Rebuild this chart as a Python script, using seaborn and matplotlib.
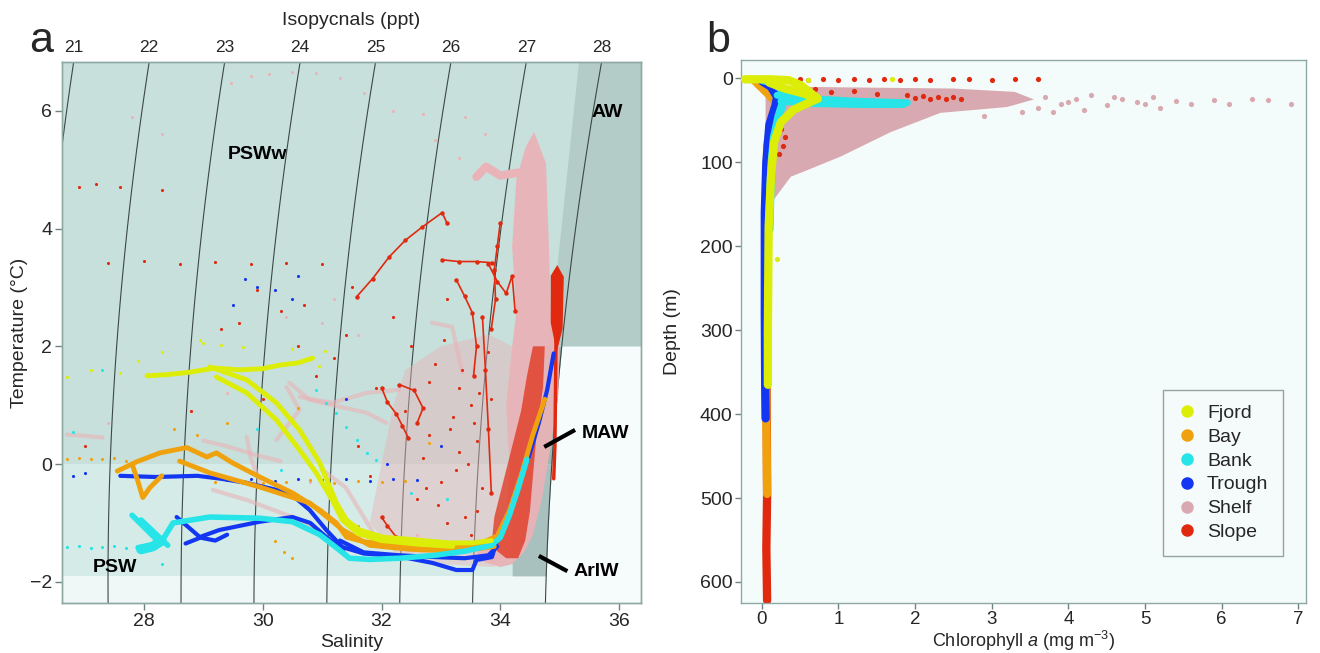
import numpy as np
import pandas as pd
import matplotlib
matplotlib.use("Agg")
import matplotlib.pyplot as plt
from matplotlib.lines import Line2D
import seaborn as sns

sns.set_theme(style="white")
plt.rcParams["font.family"] = ["Liberation Sans", "DejaVu Sans"]
plt.rcParams["mathtext.fontset"] = "custom"
plt.rcParams["mathtext.rm"] = "Liberation Sans"
plt.rcParams["mathtext.it"] = "Liberation Sans:italic"

# ---------------------------------------------------------------- categories
ZONES = ["Fjord", "Bay", "Bank", "Trough", "Shelf", "Slope"]
ZONE_COLORS = ["#dcee08", "#f0a20e", "#26e4e8", "#1236f2", "#e9b3b7", "#e0290f"]
PAL = dict(zip(ZONES, ZONE_COLORS))
SHELF_B = "#d8a9b0"

# ---------------------------------------------------------------- panel a: T-S
FJORD_S1 = [28.05, 28.4, 28.77, 29.19, 29.61, 30.0, 30.28, 30.6, 30.84]
FJORD_T1 = [1.50, 1.52, 1.56, 1.63, 1.60, 1.62, 1.68, 1.72, 1.80]
FJORD_S2 = [29.11, 29.73, 30.23, 30.62, 30.96, 31.24, 31.41, 31.63, 32.02, 32.59, 33.14, 33.53, 33.85]
FJORD_T2 = [1.65, 1.43, 1.04, 0.58, 0.02, -0.66, -0.95, -1.12, -1.24, -1.29, -1.34, -1.34, -1.30]
FJORD_S3 = [29.22, 29.73, 30.23, 30.62, 30.90, 31.17, 31.34, 31.60, 32.00, 32.60, 33.20]
FJORD_T3 = [1.48, 1.21, 0.75, 0.24, -0.15, -0.61, -0.95, -1.18, -1.30, -1.36, -1.40]
FJORD_DOT_S = [26.70, 27.60, 28.94, 29.30, 29.66, 28.30, 27.10, 30.95, 31.05, 29.00, 30.50, 27.90]
FJORD_DOT_T = [1.48, 1.55, 2.10, 2.02, 1.99, 1.90, 1.60, 1.66, 1.92, 2.05, 1.95, 1.75]

BAY_S1 = [27.55, 27.88, 28.27, 28.72, 29.06, 29.22, 29.49, 29.95, 30.50, 30.96, 31.24, 31.41, 31.70,
          32.30, 33.00, 33.60, 33.95, 34.15, 34.35, 34.55, 34.75]
BAY_T1 = [-0.12, 0.04, 0.19, 0.28, 0.12, 0.19, 0.02, -0.22, -0.49, -0.78, -1.00, -1.24, -1.32,
          -1.38, -1.42, -1.38, -1.22, -0.80, -0.20, 0.50, 1.10]
BAY_S2 = [28.60, 29.11, 29.95, 30.79, 31.35, 31.80, 32.50, 33.30, 33.90]
BAY_T2 = [0.05, -0.15, -0.39, -0.66, -1.12, -1.38, -1.45, -1.48, -1.40]
BAY_S3 = [27.80, 27.90, 27.98, 28.10, 28.30]
BAY_T3 = [0.00, -0.30, -0.57, -0.40, -0.20]
BAY_DOT_S = [26.70, 26.90, 27.10, 27.30, 27.50, 27.70, 29.20, 29.60, 30.00, 30.40, 30.80, 31.20, 31.60,
             32.00, 32.40, 30.20, 30.35, 30.50, 31.60, 31.80, 32.10, 28.50, 28.90, 29.40, 30.60, 32.80]
BAY_DOT_T = [0.08, 0.10, 0.08, 0.09, 0.10, 0.06, -0.30, -0.28, -0.33, -0.30, -0.27, -0.32, -0.29,
             -0.31, -0.28, -1.30, -1.50, -1.60, -1.05, -1.30, -1.55, 0.60, 0.50, 0.70, 0.95, 0.35]

BANK_S1 = [27.90, 28.27, 28.49, 29.11, 29.95, 30.50, 30.96, 31.29, 31.46, 31.80, 32.30, 32.90, 33.40,
           33.85, 34.00, 34.15, 34.30, 34.45]
BANK_T1 = [-1.42, -1.36, -1.00, -0.90, -0.92, -0.98, -1.20, -1.46, -1.60, -1.62, -1.60, -1.55, -1.48,
           -1.38, -1.25, -0.88, -0.42, 0.08]
BANK_S2 = [27.80, 28.27]
BANK_T2 = [-0.87, -1.34]
BANK_S3 = [27.95, 28.40]
BANK_T3 = [-0.95, -1.38]
BANK_S4 = [27.95, 28.15, 28.30]
BANK_T4 = [-1.45, -1.40, -1.30]
BANK_DOT_S = [26.70, 26.90, 27.10, 27.30, 27.50, 27.70, 30.90, 31.07, 31.24, 31.41, 31.58, 31.75, 31.91,
              27.30, 29.90, 30.30, 32.50, 33.10, 26.80, 28.30]
BANK_DOT_T = [-1.41, -1.40, -1.42, -1.41, -1.40, -1.42, 1.26, 1.04, 0.87, 0.63, 0.41, 0.19, 0.07,
              1.60, 0.60, -0.10, -0.50, -0.60, 0.55, -1.70]

TROUGH_S1 = [27.60, 28.20, 28.90, 29.30, 29.73, 30.45, 30.79, 31.07, 31.34, 31.70, 32.30, 32.86, 33.26,
             33.53, 33.60, 33.86, 33.93, 34.10, 34.27, 34.48, 34.65, 34.79, 34.90]
TROUGH_T1 = [-0.20, -0.22, -0.20, -0.25, -0.32, -0.49, -0.78, -1.12, -1.41, -1.52, -1.57, -1.68, -1.80,
             -1.80, -1.63, -1.58, -1.34, -0.95, -0.45, 0.12, 0.70, 1.26, 1.88]
TROUGH_S2 = [28.55, 28.94, 29.27, 29.95, 30.50, 30.80, 31.07, 31.35]
TROUGH_T2 = [-0.90, -1.24, -1.12, -0.98, -0.90, -1.00, -1.24, -1.46]
TROUGH_S3 = [31.30, 31.70, 32.30, 32.90, 33.40, 33.80, 33.95]
TROUGH_T3 = [-1.30, -1.50, -1.55, -1.58, -1.60, -1.55, -1.40]
TROUGH_S4 = [28.70, 28.95, 29.20, 29.40]
TROUGH_T4 = [-1.35, -1.25, -1.30, -1.20]
TROUGH_DOT_S = [29.40, 29.80, 30.20, 30.60, 31.00, 31.40, 31.80, 32.20, 32.60, 29.70, 29.90, 30.20,
                30.50, 30.60, 29.50, 31.40, 32.10, 33.00, 27.00, 26.80]
TROUGH_DOT_T = [-0.27, -0.25, -0.28, -0.26, -0.27, -0.25, -0.28, -0.26, -0.27, 3.15, 3.00, 2.95,
                2.80, 3.20, 2.70, 1.10, 0.00, 0.30, -0.15, -0.20]

SHELF_CORE_S = [34.57, 34.77, 34.82, 34.85, 35.00, 34.98, 34.85, 34.70, 34.55, 34.40, 34.20, 34.00,
                33.70, 33.60, 33.90, 34.10, 34.15, 34.10, 34.20, 34.27, 34.20, 34.27, 34.43]
SHELF_CORE_T = [5.64, 5.11, 3.69, 2.57, 2.20, 1.20, 0.30, -0.60, -1.20, -1.50, -1.70, -1.75,
                -1.65, -1.50, -1.30, -0.90, 0.00, 1.00, 2.00, 2.57, 3.69, 4.83, 5.39]
SHELF_HAZE_S = [32.40, 33.00, 33.80, 34.20, 34.10, 33.90, 33.00, 32.30, 31.80, 32.00, 32.20]
SHELF_HAZE_T = [1.60, 2.00, 2.20, 2.00, -1.00, -1.75, -1.70, -1.60, -1.00, 0.00, 1.00]
SHELF_ARM_S = [34.30, 34.00, 33.76, 33.60]
SHELF_ARM_T = [4.95, 4.90, 5.05, 4.88]
SHELF_STREAKS = [
    ([26.70, 27.00, 27.30], [0.50, 0.48, 0.45]),
    ([29.73, 29.80, 29.95], [0.46, 0.10, -0.30]),
    ([30.40, 30.62, 30.23], [1.31, 0.92, 0.41]),
    ([29.16, 29.73, 30.50, 31.07, 31.40], [-0.44, -0.61, -0.90, -1.24, -1.50]),
    ([30.62, 31.17, 31.75, 32.30], [1.14, 1.04, 1.21, 1.26]),
    ([30.45, 30.79, 31.75, 32.08], [1.38, 1.09, 0.87, 0.70]),
    ([32.85, 33.19, 33.36], [2.40, 2.33, 1.55]),
    ([29.00, 29.40, 29.90, 30.30], [0.40, 0.30, 0.15, 0.05]),
    ([31.00, 31.40, 31.70, 32.00], [-0.10, -0.40, -0.90, -1.40]),
]
SHELF_DOT_S = [29.46, 29.80, 30.10, 30.50, 30.90, 31.30, 31.70, 32.20, 32.70, 33.40, 33.75, 32.90,
               33.30, 27.80, 28.30, 30.40, 31.00, 31.60, 28.80, 27.40, 30.80, 32.60, 31.20, 29.40]
SHELF_DOT_T = [6.47, 6.60, 6.62, 6.66, 6.64, 6.55, 6.30, 6.00, 5.95, 5.90, 5.60, 5.50,
               5.20, 5.90, 5.60, 2.50, 2.40, 2.20, 0.90, 0.70, -0.30, -1.20, 2.80, 1.20]

SLOPE_BAND_S = [33.85, 33.90, 34.05, 34.20, 34.35, 34.45, 34.55, 34.75, 34.72, 34.62, 34.55, 34.50,
                34.42, 34.30, 34.10]
SLOPE_BAND_T = [-1.40, -0.90, -0.30, 0.30, 0.90, 1.50, 2.00, 2.00, 1.30, 0.60, -0.20, -0.80,
                -1.30, -1.60, -1.60]
SLOPE_AW_S = [34.85, 34.96, 35.07, 35.05, 34.95, 34.85]
SLOPE_AW_T = [3.20, 3.38, 3.18, 2.30, 1.90, 2.40]
SLOPE_COL_S = [34.95, 34.95, 34.94, 34.93, 34.92, 34.90]
SLOPE_COL_T = [3.30, 2.80, 2.20, 1.20, 0.30, -0.25]
SLOPE_STREAKS = [
    ([31.58, 31.85, 32.13, 32.40, 32.69, 33.02, 33.10], [2.84, 3.15, 3.52, 3.80, 4.03, 4.27, 4.10]),
    ([33.02, 33.30, 33.60, 33.86], [3.47, 3.44, 3.44, 3.42]),
    ([34.00, 33.95, 33.90, 33.92, 33.85], [4.10, 3.70, 3.30, 2.80, 2.30]),
    ([33.26, 33.40, 33.53, 33.60, 33.55], [3.13, 2.85, 2.57, 2.00, 1.50]),
    ([32.00, 32.10, 32.25, 32.35, 32.45], [1.30, 1.05, 0.85, 0.65, 0.45]),
    ([32.30, 32.55, 32.70, 32.60], [1.35, 1.25, 0.95, 0.70]),
    ([32.00, 32.10, 32.25], [-0.90, -1.05, -1.24]),
    ([33.70, 33.75, 33.80, 33.85], [2.50, 1.60, 0.60, -0.50]),
    ([33.80, 33.95, 34.10, 34.20, 34.25], [3.40, 3.10, 2.90, 3.20, 2.60]),
]
SLOPE_DOT_S = [26.90, 27.20, 27.60, 28.30, 27.40, 28.00, 28.60, 29.20, 29.80, 30.40, 31.00, 29.90,
               30.30, 30.60, 31.20, 31.90, 32.40, 32.80, 33.30, 33.00, 32.60, 31.60, 29.30, 30.90,
               31.40, 32.20, 33.50, 33.70, 32.90, 27.00, 28.80, 30.00, 31.80, 33.10, 32.70, 33.20,
               33.40, 32.90, 33.60, 33.30, 32.50, 33.80, 33.10, 32.80, 33.50, 31.50, 30.70, 29.60,
               33.15, 33.45, 33.65, 32.95, 33.25, 33.55, 33.05, 33.35, 32.75, 33.85, 33.60, 33.20]
SLOPE_DOT_T = [4.70, 4.75, 4.70, 4.65, 3.42, 3.45, 3.40, 3.43, 3.40, 3.42, 3.40, 2.95,
               2.60, 2.00, 1.80, 1.30, 0.90, 0.50, 0.20, -0.30, -0.60, 0.30, 2.30, 1.50,
               2.20, 2.50, 1.00, -0.40, 1.70, 0.30, 0.90, 1.10, -0.20, -1.00, 0.10, 0.80,
               -0.90, -1.30, 0.40, 1.30, 2.00, 1.90, 2.80, 1.40, -1.20, 3.00, 2.70, 2.40,
               0.60, 0.00, 1.20, -0.70, -0.10, 0.70, 2.10, 1.60, -0.40, 1.10, -0.80, -1.40]

# ---------------------------------------------------------------- panel b: chlorophyll
FJORD_CHL1 = [-0.22, 0.10, 0.35, 0.51, 0.73, 0.42, 0.25, 0.16, 0.12, 0.09, 0.08, 0.08]
FJORD_DEP1 = [1, 1, 2, 8, 24, 37, 52, 76, 117, 177, 300, 365]
FJORD_CHL2 = [0.10, 0.30, 0.55, 0.73]
FJORD_DEP2 = [5, 12, 18, 24]
BANK_CHL1 = [0.20, 0.60, 1.20, 1.90]
BANK_DEP1 = [20, 24, 27, 29]
BANK_CHL2 = [0.25, 0.70, 1.30, 1.85]
BANK_DEP2 = [27, 30, 31, 31]
BANK_CHL3 = [0.02, 0.15, 0.25, 0.30, 0.22, 0.16, 0.13, 0.11, 0.10]
BANK_DEP3 = [2, 5, 12, 22, 45, 70, 100, 140, 180]
TROUGH_CHL = [0.00, 0.12, 0.20, 0.18, 0.10, 0.06, 0.04, 0.04, 0.045, 0.05]
TROUGH_DEP = [3, 10, 22, 32, 55, 100, 160, 280, 365, 405]
BAY_CHL = [-0.10, 0.10, 0.20, 0.15, 0.07, 0.06, 0.06, 0.07]
BAY_DEP = [2, 20, 30, 40, 80, 200, 405, 495]
SLOPE_CHL = [0.06, 0.07, 0.06, 0.07]
SLOPE_DEP = [300, 495, 560, 622]
SHELF_WEDGE_CHL = [0.05, 0.50, 1.50, 2.50, 3.30, 3.55, 3.20, 2.33, 1.68, 1.03, 0.60, 0.38, 0.16,
                   0.08, 0.05]
SHELF_WEDGE_DEP = [8, 10, 11, 12, 16, 25, 34, 41, 64, 93, 109, 117, 144, 120, 60]
SHELF_B_DOT_CHL = [3.70, 3.90, 4.10, 4.30, 4.50, 4.70, 4.90, 5.10, 5.20, 5.40, 5.60, 5.90, 6.10, 6.40,
                   6.60, 6.90, 3.80, 4.20, 3.60, 4.00, 4.60, 5.00, 3.40, 2.90]
SHELF_B_DOT_DEP = [22, 30, 25, 20, 32, 24, 28, 22, 35, 27, 30, 26, 30, 24, 26, 30, 40, 38, 35, 28,
                   22, 31, 40, 45]
SLOPE_B_DOT_CHL = [0.50, 0.60, 0.80, 1.00, 1.20, 1.40, 1.60, 1.80, 2.00, 2.20, 2.50, 2.70, 3.00, 3.30,
                   3.60, 1.90, 2.00, 2.10, 2.20, 2.30, 2.40, 2.50, 2.60, 1.50, 1.20, 0.90, 0.70,
                   0.20, 0.25, 0.30, 0.28, 0.22, 0.15]
SLOPE_B_DOT_DEP = [1, 2, 1, 2, 1, 2, 1, 2, 1, 2, 1, 1, 2, 1, 1, 20, 23, 21, 24, 22, 25, 22, 24, 18,
                   15, 16, 12, 50, 60, 70, 80, 90, 100]
FJORD_B_DOT_CHL = [0.20, 0.30, 0.60, 1.70]
FJORD_B_DOT_DEP = [215, 1, 2, 1]

# ---------------------------------------------------------------- density helper
def sigma0(S, T):
    rw = (999.842594 + 6.793952e-2 * T - 9.095290e-3 * T**2 + 1.001685e-4 * T**3
          - 1.120083e-6 * T**4 + 6.536332e-9 * T**5)
    A = 8.24493e-1 - 4.0899e-3 * T + 7.6438e-5 * T**2 - 8.2467e-7 * T**3 + 5.3875e-9 * T**4
    B = -5.72466e-3 + 1.0227e-4 * T - 1.6546e-6 * T**2
    C = 4.8314e-4
    return rw + A * S + B * S**1.5 + C * S**2 - 1000.0


S_FINE = np.linspace(20, 40, 4001)


def s_on_isopycnal(level, T):
    T = np.atleast_1d(T)
    return np.array([np.interp(level, sigma0(S_FINE, t), S_FINE) for t in T])


def traces_frame(zone, pairs):
    rows = []
    for k, (xs, ys) in enumerate(pairs):
        for x, y in zip(xs, ys):
            rows.append((zone, k, x, y))
    return pd.DataFrame(rows, columns=["zone", "trace", "x", "y"])


def draw_traces(ax, zone, pairs, color, lw, z, **kw):
    df = traces_frame(zone, pairs)
    kw.setdefault("solid_capstyle", "round")
    sns.lineplot(data=df, x="x", y="y", units="trace", estimator=None, sort=False,
                 color=color, lw=lw, legend=False, ax=ax, zorder=z, **kw)


def draw_dots(ax, xs, ys, color, s, z):
    sns.scatterplot(x=xs, y=ys, color=color, s=s, linewidth=0, legend=False, ax=ax, zorder=z)


FRAME = "#8ea8a4"
S_LO, S_HI, T_BOT, T_TOP = 26.62, 36.37, -2.36, 6.83

fig = plt.figure(figsize=(13.2, 6.53), dpi=100)
axA = fig.add_axes([0.047, 0.0766, 0.4386, 0.8285])
axB = fig.add_axes([0.5614, 0.0766, 0.428, 0.8315])

# ---------------------------------------------------------------- panel a background
axA.set_facecolor("#eff8f7")
axA.fill_between([S_LO, S_HI], 0, T_TOP, color="#c7e0dc", lw=0, zorder=0.1)
axA.fill_between([S_LO, S_HI], -1.9, 0, color="#d5ebe7", lw=0, zorder=0.1)
Tw = np.linspace(T_BOT, 2.0, 60)
axA.fill_betweenx(Tw, s_on_isopycnal(28, Tw), S_HI, color="#f6fbfb", lw=0, zorder=0.2)
axA.fill([35.33, S_HI, S_HI, 34.82], [T_TOP, T_TOP, 2.0, 2.0], color="#b3ccc8", lw=0, zorder=0.3)
Tm = np.linspace(0, 2.0, 30)
axA.fill_betweenx(Tm, 34.54, s_on_isopycnal(28, Tm), color="#9db6b2", lw=0, zorder=0.3)
Ta = np.linspace(-1.9, 0, 30)
axA.fill_betweenx(Ta, 34.2, s_on_isopycnal(28, Ta), color="#a9c1be", lw=0, zorder=0.3)

# isopycnals
SS, TT = np.meshgrid(np.linspace(25.5, 37.5, 300), np.linspace(-3, 8, 300))
LEVELS = [21, 22, 23, 24, 25, 26, 27, 28]
axA.contour(SS, TT, sigma0(SS, TT), levels=LEVELS, colors="#3b4846", linewidths=0.8, zorder=1)

# ---------------------------------------------------------------- panel a data
axA.fill(SHELF_HAZE_S, SHELF_HAZE_T, color=PAL["Shelf"], alpha=0.45, lw=0, zorder=2)
axA.fill(SHELF_CORE_S, SHELF_CORE_T, color=PAL["Shelf"], alpha=0.95, lw=0, zorder=2.1)
draw_traces(axA, "Shelf", [(SHELF_ARM_S, SHELF_ARM_T)], PAL["Shelf"], 6, 2.1)
draw_traces(axA, "Shelf", SHELF_STREAKS, PAL["Shelf"], 3.0, 2.0, alpha=0.6)
draw_dots(axA, SHELF_DOT_S, SHELF_DOT_T, PAL["Shelf"], 5, 2.0)

axA.fill(SLOPE_BAND_S, SLOPE_BAND_T, color=PAL["Slope"], alpha=0.7, lw=0, zorder=2.2)
axA.fill(SLOPE_AW_S, SLOPE_AW_T, color=PAL["Slope"], lw=0, zorder=2.2)
draw_traces(axA, "Slope", [(SLOPE_COL_S, SLOPE_COL_T)], PAL["Slope"], 2.5, 2.2)
draw_traces(axA, "Slope", SLOPE_STREAKS, PAL["Slope"], 1.2, 2.2,
            marker="o", markersize=3.2, markeredgewidth=0)
draw_dots(axA, SLOPE_DOT_S, SLOPE_DOT_T, PAL["Slope"], 5, 2.2)

draw_dots(axA, TROUGH_DOT_S, TROUGH_DOT_T, PAL["Trough"], 5, 2.3)
draw_dots(axA, BAY_DOT_S, BAY_DOT_T, PAL["Bay"], 5, 2.3)
draw_dots(axA, BANK_DOT_S, BANK_DOT_T, PAL["Bank"], 5, 2.3)
draw_dots(axA, FJORD_DOT_S, FJORD_DOT_T, PAL["Fjord"], 5, 2.3)

draw_traces(axA, "Trough", [(TROUGH_S1, TROUGH_T1), (TROUGH_S2, TROUGH_T2),
                            (TROUGH_S3, TROUGH_T3), (TROUGH_S4, TROUGH_T4)],
            PAL["Trough"], 3.0, 3.0)
draw_traces(axA, "Bay", [(BAY_S1, BAY_T1), (BAY_S2, BAY_T2), (BAY_S3, BAY_T3)],
            PAL["Bay"], 3.5, 3.1)
draw_traces(axA, "Bank", [(BANK_S1, BANK_T1), (BANK_S2, BANK_T2), (BANK_S3, BANK_T3)],
            PAL["Bank"], 4.0, 3.2)
draw_traces(axA, "Bank", [(BANK_S4, BANK_T4)], PAL["Bank"], 7.0, 3.2)
draw_traces(axA, "Fjord", [(FJORD_S1, FJORD_T1), (FJORD_S2, FJORD_T2), (FJORD_S3, FJORD_T3)],
            PAL["Fjord"], 3.5, 3.3)

# water-mass labels
bold = dict(fontsize=14, fontweight="bold", color="black", zorder=5)
axA.text(29.41, 5.25, "PSWw", ha="left", va="center", **bold)
axA.text(35.53, 5.98, "AW", ha="left", va="center", **bold)
axA.text(35.37, 0.52, "MAW", ha="left", va="center", **bold)
axA.text(35.24, -1.83, "ArIW", ha="left", va="center", **bold)
axA.text(27.14, -1.75, "PSW", ha="left", va="center", **bold)
axA.plot([34.74, 35.26], [0.29, 0.58], color="black", lw=3, zorder=5, solid_capstyle="butt")
axA.plot([34.65, 35.13], [-1.56, -1.82], color="black", lw=3, zorder=5, solid_capstyle="butt")

axA.set_xlim(S_LO, S_HI)
axA.set_ylim(T_BOT, T_TOP)
axA.set_xticks([28, 30, 32, 34, 36])
axA.set_yticks([6, 4, 2, 0, -2])
axA.set_xlabel("Salinity", fontsize=14)
axA.set_ylabel("Temperature (°C)", fontsize=14)
axA.xaxis.set_label_coords(0.5, -0.058)
axA.yaxis.set_label_coords(-0.058, 0.5)

top = axA.twiny()
top.set_xlim(S_LO, S_HI)
top_pos = [float(s_on_isopycnal(l, T_TOP)[0]) for l in LEVELS]
top.set_xticks(top_pos)
top.set_xticklabels([str(l) for l in LEVELS])
top.tick_params(axis="x", length=0, pad=5, labelsize=12.5)
top.set_xlabel("Isopycnals (ppt)", fontsize=14, labelpad=11)

# ---------------------------------------------------------------- panel b
axB.set_facecolor("#f4fbfb")
axB.fill(SHELF_WEDGE_CHL, SHELF_WEDGE_DEP, color=SHELF_B, lw=0, zorder=2)
draw_dots(axB, SHELF_B_DOT_CHL, SHELF_B_DOT_DEP, SHELF_B, 14, 2)
draw_traces(axB, "Slope", [(SLOPE_CHL, SLOPE_DEP)], PAL["Slope"], 6, 2.2)
draw_dots(axB, SLOPE_B_DOT_CHL, SLOPE_B_DOT_DEP, PAL["Slope"], 14, 2.3)
draw_traces(axB, "Bay", [(BAY_CHL, BAY_DEP)], PAL["Bay"], 6, 2.4)
draw_traces(axB, "Trough", [(TROUGH_CHL, TROUGH_DEP)], PAL["Trough"], 6, 2.5)
draw_traces(axB, "Bank", [(BANK_CHL3, BANK_DEP3)], PAL["Bank"], 6, 2.6)
draw_traces(axB, "Bank", [(BANK_CHL1, BANK_DEP1), (BANK_CHL2, BANK_DEP2)], PAL["Bank"], 5, 2.6)
draw_traces(axB, "Fjord", [(FJORD_CHL1, FJORD_DEP1), (FJORD_CHL2, FJORD_DEP2)], PAL["Fjord"], 6, 2.7)
draw_dots(axB, FJORD_B_DOT_CHL, FJORD_B_DOT_DEP, PAL["Fjord"], 14, 2.8)

axB.set_xlim(-0.27, 7.1)
axB.set_ylim(625, -22)
axB.set_xticks(range(0, 8))
axB.set_yticks(range(0, 700, 100))
axB.set_xlabel(r"Chlorophyll $\mathit{a}$ (mg m$^{-3}$)", fontsize=13)
axB.set_ylabel("Depth (m)", fontsize=14)
axB.xaxis.set_label_coords(0.5, -0.047)
axB.yaxis.set_label_coords(-0.106, 0.5)

handles = [Line2D([], [], ls="", marker="o", ms=9, mec="none",
                  mfc=(SHELF_B if z == "Shelf" else PAL[z]), label=z) for z in ZONES]
leg = axB.legend(handles=handles, loc="lower right", bbox_to_anchor=(0.959, 0.087),
                 borderaxespad=0, frameon=True, fancybox=False, fontsize=14,
                 handletextpad=0.5, labelspacing=0.32, borderpad=0.75, handlelength=1.0)
leg.get_frame().set_edgecolor("#7d8f8c")
leg.get_frame().set_facecolor("#f6fcfc")
leg.get_frame().set_linewidth(1.0)

for ax in (axA, axB, top):
    for sp in ax.spines.values():
        sp.set_color(FRAME)
        sp.set_linewidth(1.0)
axA.tick_params(axis="both", which="major", labelsize=14, length=5, width=1,
                color="#6f8380", bottom=True, left=True, pad=2)
axB.tick_params(axis="both", which="major", labelsize=14, length=4, width=1,
                color="#6f8380", bottom=True, left=True, pad=2)
axB.tick_params(axis="x", labelsize=13.5, pad=1.5)

fig.text(0.022, 0.937, "a", fontsize=31, ha="left", va="center")
fig.text(0.535, 0.937, "b", fontsize=31, ha="left", va="center")

fig.savefig("out.png", dpi=100, facecolor="white")
